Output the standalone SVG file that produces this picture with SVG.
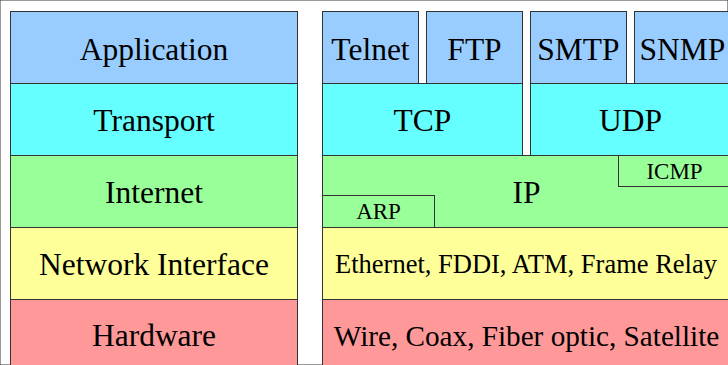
<svg xmlns="http://www.w3.org/2000/svg" width="728" height="365" viewBox="0 0 728 365">
  <style>
    rect { stroke: #333333; stroke-width: 1; }
    .app { fill: #99ccff; }
    .tra { fill: #66ffff; }
    .net { fill: #99ff99; }
    .nif { fill: #ffff99; }
    .hw  { fill: #ff9999; }
    text { font-family: "Liberation Serif", "Times New Roman", serif; fill: #000000; text-anchor: middle; }
    .big { font-size: 31.5px; }
    .small { font-size: 23px; }
  </style>
  <rect x="0" y="0" width="728" height="365" fill="#ffffff" stroke="none"/>

  <!-- TCP/IP layer model -->
  <g id="layer-application">
    <rect class="app" x="10.5" y="11.5" width="287" height="72"/>
    <text class="big" x="154" y="59.5">Application</text>
  </g>
  <g id="layer-transport">
    <rect class="tra" x="10.5" y="83.5" width="287" height="72"/>
    <text class="big" x="154" y="130.5">Transport</text>
  </g>
  <g id="layer-internet">
    <rect class="net" x="10.5" y="155.5" width="287" height="72"/>
    <text class="big" x="154" y="202.5">Internet</text>
  </g>
  <g id="layer-network-interface">
    <rect class="nif" x="10.5" y="227.5" width="287" height="72"/>
    <text class="big" x="154" y="274.5">Network Interface</text>
  </g>
  <g id="layer-hardware">
    <rect class="hw" x="10.5" y="299.5" width="287" height="72"/>
    <text class="big" x="154" y="346">Hardware</text>
  </g>

  <!-- Protocols per layer -->
  <g id="proto-telnet">
    <rect class="app" x="322.5" y="11.5" width="96" height="72"/>
    <text class="big" x="370.5" y="59.5">Telnet</text>
  </g>
  <g id="proto-ftp">
    <rect class="app" x="426.5" y="11.5" width="96" height="72"/>
    <text class="big" x="474.5" y="59.5">FTP</text>
  </g>
  <g id="proto-smtp">
    <rect class="app" x="530.5" y="11.5" width="96" height="72"/>
    <text class="big" x="578.5" y="59.5">SMTP</text>
  </g>
  <g id="proto-snmp">
    <rect class="app" x="634.5" y="11.5" width="97" height="72"/>
    <text class="big" x="682.5" y="59.5">SNMP</text>
  </g>
  <g id="proto-tcp">
    <rect class="tra" x="322.5" y="83.5" width="200" height="72"/>
    <text class="big" x="422.5" y="130.5">TCP</text>
  </g>
  <g id="proto-udp">
    <rect class="tra" x="530.5" y="83.5" width="201" height="72"/>
    <text class="big" x="630.5" y="130.5">UDP</text>
  </g>
  <g id="proto-ip">
    <rect class="net" x="322.5" y="155.5" width="409" height="72"/>
    <text class="big" x="526.5" y="202.5">IP</text>
  </g>
  <g id="proto-icmp">
    <rect class="net" x="618.5" y="155.5" width="113" height="31"/>
    <text class="small" x="674.5" y="179">ICMP</text>
  </g>
  <g id="proto-arp">
    <rect class="net" x="322.5" y="195.5" width="112" height="32"/>
    <text class="small" x="378.5" y="219.3">ARP</text>
  </g>
  <g id="proto-link">
    <rect class="nif" x="322.5" y="227.5" width="409" height="72"/>
    <text x="526" y="272.7" style="font-size:26.5px">Ethernet, FDDI, ATM, Frame Relay</text>
  </g>
  <g id="proto-media">
    <rect class="hw" x="322.5" y="299.5" width="409" height="72"/>
    <text x="526.5" y="346" style="font-size:29.2px">Wire, Coax, Fiber optic, Satellite</text>
  </g>
</svg>
